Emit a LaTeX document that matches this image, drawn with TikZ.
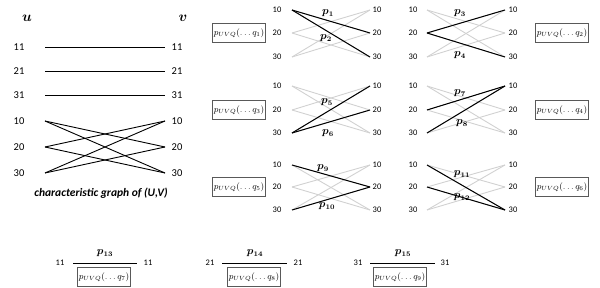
\documentclass[tikz,border=0pt]{standalone}
\usepackage{fontspec}
\setmainfont{Carlito}
\begin{document}
\begin{tikzpicture}[x=1pt,y=-1pt,
  num/.style={font=\fontsize{8.5}{9}\selectfont, inner sep=0pt},
  bignum/.style={font=\fontsize{10.5}{11}\selectfont, inner sep=0pt},
  greyedge/.style={draw=black!18, line width=0.9pt},
  blackedge/.style={draw=black, line width=1pt},
  plain/.style={draw=black, line width=0.9pt},
  plab/.style={font=\fontsize{10.5}{11}\selectfont\boldmath, inner sep=0pt},
  qbox/.style={draw=black!65, line width=0.9pt, minimum width=52pt, minimum height=19pt, inner sep=1pt, font=\fontsize{9}{10}\selectfont},
  vlab/.style={font=\fontsize{15}{16}\selectfont\boldmath, inner sep=0pt}]
\useasboundingbox (0,0) rectangle (600,288);
\newcommand{\mypanel}[8]{%
  \foreach \nn/\yy in {10/#6,20/#7,30/#8} {
    \node[num] (#1l\nn) at (#2,\yy) {\nn};
    \node[num] (#1r\nn) at (#5,\yy) {\nn};
    \coordinate (#1a\nn) at (#3,\yy);
    \coordinate (#1b\nn) at (#4,\yy);
  }
  \foreach \ii/\jj in {10/20,10/30,20/10,20/30,30/10,30/20}
    \draw[greyedge] (#1a\ii) -- (#1b\jj);
}
% left characteristic graph
\node[vlab] (u) at (27,18) {$u$};
\node[vlab] (v) at (183,18) {$v$};
\foreach \nn/\yy in {11/47,21/71,31/95,10/121,20/147,30/173} {
  \node[bignum] (Ll\nn) at (19,\yy) {\nn};
  \node[bignum] (Lr\nn) at (177,\yy) {\nn};
  \coordinate (La\nn) at (45,\yy);
  \coordinate (Lb\nn) at (165,\yy);
}
\draw[plain] (La11) -- (Lb11);
\draw[plain] (La21) -- (Lb21);
\draw[plain] (La31) -- (Lb31);
\foreach \ii/\jj in {10/20,10/30,20/10,20/30,30/10,30/20}
  \draw[plain] (La\ii) -- (Lb\jj);
\node[font=\bfseries\itshape\fontsize{11.5}{12}\selectfont] (cap) at (101,193) {characteristic graph of (U,V)};

% panels
\mypanel{A}{277}{292}{370}{377}{10}{33}{57}
\mypanel{B}{413}{427}{505}{513}{10}{33}{57}
\mypanel{C}{277}{292}{370}{377}{86}{110}{133}
\mypanel{D}{413}{427}{505}{513}{86}{110}{133}
\mypanel{E}{277}{292}{370}{377}{165}{187}{210}
\mypanel{F}{413}{427}{505}{513}{165}{187}{210}

\draw[blackedge] (Aa10) -- (Ab20);
\draw[blackedge] (Aa10) -- (Ab30);
\draw[blackedge] (Ba20) -- (Bb10);
\draw[blackedge] (Ba20) -- (Bb30);
\draw[blackedge] (Ca30) -- (Cb10);
\draw[blackedge] (Ca30) -- (Cb20);
\draw[blackedge] (Da20) -- (Db10);
\draw[blackedge] (Da30) -- (Db10);
\draw[blackedge] (Ea10) -- (Eb20);
\draw[blackedge] (Ea30) -- (Eb20);
\draw[blackedge] (Fa10) -- (Fb30);
\draw[blackedge] (Fa20) -- (Fb30);

\node[plab] (p1) at (328,13) {$p_1$};
\node[plab] (p2) at (326,38) {$p_2$};
\node[plab] (p3) at (460,13) {$p_3$};
\node[plab] (p4) at (460,55) {$p_4$};
\node[plab] (p5) at (327,102) {$p_5$};
\node[plab] (p6) at (328,133) {$p_6$};
\node[plab] (p7) at (460,93) {$p_7$};
\node[plab] (p8) at (462,123) {$p_8$};
\node[plab] (p9) at (323,168) {$p_9$};
\node[plab] (p10) at (327,206) {$p_{10}$};
\node[plab] (p11) at (462,174) {$p_{11}$};
\node[plab] (p12) at (462,197) {$p_{12}$};

\node[qbox] (q1) at (239,33) {$p_{UVQ}(\ldots q_1)$};
\node[qbox] (q2) at (562,33) {$p_{UVQ}(\ldots q_2)$};
\node[qbox] (q3) at (239,110) {$p_{UVQ}(\ldots q_3)$};
\node[qbox] (q4) at (562,110) {$p_{UVQ}(\ldots q_4)$};
\node[qbox] (q5) at (239,187) {$p_{UVQ}(\ldots q_5)$};
\node[qbox] (q6) at (562,187) {$p_{UVQ}(\ldots q_6)$};

% bottom row
\node[num] (g11l) at (60,263) {11};
\node[num] (g11r) at (148,263) {11};
\coordinate (g11a) at (73,263);
\coordinate (g11b) at (137,263);
\draw[plain] (g11a) -- (g11b);
\node[plab] (p13) at (105,253) {$p_{13}$};
\node[qbox] (q7) at (104,277) {$p_{UVQ}(\ldots q_7)$};

\node[num] (g21l) at (210,263) {21};
\node[num] (g21r) at (298,263) {21};
\coordinate (g21a) at (222,263);
\coordinate (g21b) at (287,263);
\draw[plain] (g21a) -- (g21b);
\node[plab] (p14) at (255,253) {$p_{14}$};
\node[qbox] (q8) at (254,277) {$p_{UVQ}(\ldots q_8)$};

\node[num] (g31l) at (358,263) {31};
\node[num] (g31r) at (445,263) {31};
\coordinate (g31a) at (370,263);
\coordinate (g31b) at (435,263);
\draw[plain] (g31a) -- (g31b);
\node[plab] (p15) at (403,253) {$p_{15}$};
\node[qbox] (q9) at (400,277) {$p_{UVQ}(\ldots q_9)$};
\end{tikzpicture}
\end{document}
